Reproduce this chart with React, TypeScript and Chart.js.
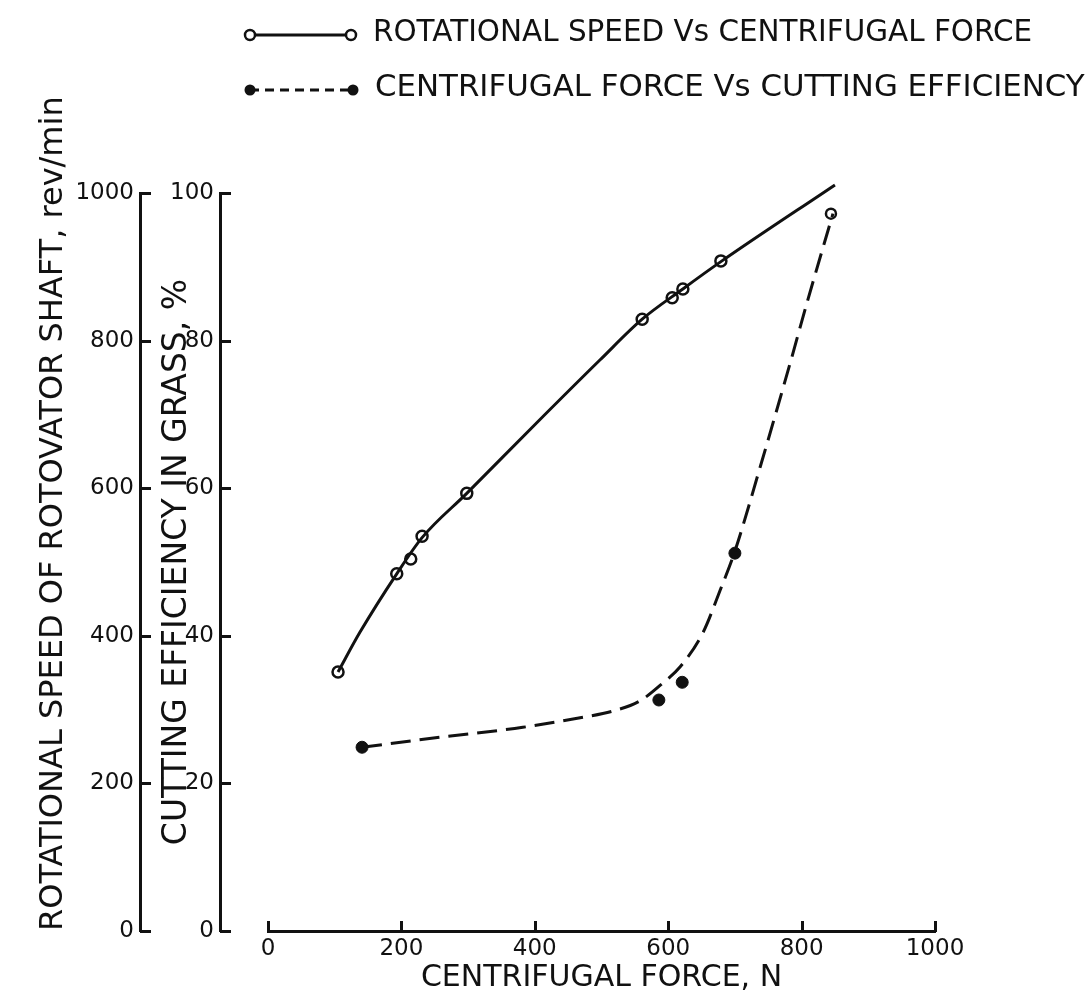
import { useEffect, useRef } from 'react';
import { Chart, registerables } from 'chart.js';

Chart.register(...registerables);

// ---- data ----
// measured points: rotational speed (rev/min) vs centrifugal force (N)
const SPEED_FORCE = [105, 193, 214, 231, 298, 561, 606, 622, 679, 850];
const ROTATIONAL_SPEED = [351, 484, 504, 535, 593, 829, 858, 870, 908, 1011];

// hand-drawn solid curve through them
const SPEED_CURVE_FORCE = [105, 138, 193, 231, 298, 400, 498, 561, 622, 679, 850];
const SPEED_CURVE = [351, 405, 484, 533, 593, 686, 774, 829, 870, 907, 1011];

// measured points: cutting efficiency (%) vs centrifugal force (N)
const EFF_FORCE = [141, 586, 621, 700, 844];
const CUTTING_EFFICIENCY = [24.9, 31.3, 33.7, 51.2, 97.2];

// hand-drawn dashed curve
const FIT_FORCE = [141, 262, 382, 468, 517, 558, 592, 618, 652, 678, 699, 738, 783, 808, 847];
const FIT_EFFICIENCY = [24.9, 26.3, 27.6, 28.9, 29.8, 31.2, 33.6, 35.8, 40.4, 46.2, 51.2, 62.9, 77.0, 85.1, 97.2];

const X_TICK_STEP = 200;
const SPEED_TICK_STEP = 200;
const EFF_TICK_STEP = 20;

const LEGEND_LABELS = [
  'ROTATIONAL SPEED Vs CENTRIFUGAL FORCE',
  'CENTRIFUGAL FORCE Vs CUTTING EFFICIENCY',
];
const X_TITLE = 'CENTRIFUGAL FORCE, N';
const SPEED_TITLE = 'ROTATIONAL SPEED OF ROTOVATOR SHAFT, rev/min';
const EFF_TITLE = 'CUTTING EFFICIENCY IN GRASS, %';

const INK = '#111111';
const FAMILY = "'DejaVu Sans', sans-serif";

const legendPlugin = {
  id: 'sampleLegend',
  afterDraw(chart: any) {
    const ctx = chart.ctx as CanvasRenderingContext2D;
    ctx.save();
    ctx.strokeStyle = INK;
    ctx.fillStyle = INK;
    ctx.lineWidth = 3;
    // row 1: solid line with open circles
    const y1 = 35;
    ctx.setLineDash([]);
    ctx.beginPath();
    ctx.moveTo(250, y1);
    ctx.lineTo(351, y1);
    ctx.stroke();
    for (const cx of [250, 351]) {
      ctx.beginPath();
      ctx.arc(cx, y1, 5, 0, Math.PI * 2);
      ctx.fillStyle = '#ffffff';
      ctx.fill();
      ctx.lineWidth = 2.5;
      ctx.stroke();
    }
    ctx.fillStyle = INK;
    ctx.font = `29.45px ${FAMILY}`;
    ctx.textBaseline = 'middle';
    ctx.textAlign = 'left';
    ctx.fillText(LEGEND_LABELS[0], 373, y1 - 2);

    // row 2: dashed line with filled dots
    const y2 = 90;
    ctx.lineWidth = 3;
    ctx.setLineDash([9, 6]);
    ctx.beginPath();
    ctx.moveTo(250, y2);
    ctx.lineTo(353, y2);
    ctx.stroke();
    ctx.setLineDash([]);
    for (const cx of [250, 353]) {
      ctx.beginPath();
      ctx.arc(cx, y2, 5.5, 0, Math.PI * 2);
      ctx.fill();
    }
    ctx.font = `30.85px ${FAMILY}`;
    ctx.fillText(LEGEND_LABELS[1], 375, y2 - 2);
    ctx.restore();
  },
};

// tick marks pointing into the plot, drawn at the scales' own tick positions
const inwardTicksPlugin = {
  id: 'inwardTicks',
  afterDraw(chart: any) {
    const ctx = chart.ctx as CanvasRenderingContext2D;
    ctx.save();
    ctx.strokeStyle = INK;
    ctx.lineWidth = 3;
    ctx.setLineDash([]);
    for (const id of ['ySpeed', 'yEff']) {
      const s = chart.scales[id];
      for (const t of s.ticks) {
        const py = Math.round(s.getPixelForValue(t.value)) + 0.5;
        ctx.beginPath();
        ctx.moveTo(s.right, py);
        ctx.lineTo(s.right + 11, py);
        ctx.stroke();
      }
    }
    const sx = chart.scales.x;
    for (const t of sx.ticks) {
      const px = Math.round(sx.getPixelForValue(t.value)) + 0.5;
      ctx.beginPath();
      ctx.moveTo(px, sx.top + 1);
      ctx.lineTo(px, sx.top - 10);
      ctx.stroke();
    }
    ctx.restore();
  },
};

const plain = (v: any) => String(v);

export default function App() {
  const canvasRef = useRef<HTMLCanvasElement | null>(null);

  useEffect(() => {
    if (!canvasRef.current) return;
    const tickFont = { family: FAMILY, size: 23 };
    const chart = new Chart(canvasRef.current, {
      type: 'line',
      data: {
        datasets: [
          {
            label: LEGEND_LABELS[0] + ' curve',
            data: SPEED_CURVE_FORCE.map((x, i) => ({ x, y: SPEED_CURVE[i] })),
            yAxisID: 'ySpeed',
            borderColor: INK,
            borderWidth: 3,
            cubicInterpolationMode: 'monotone',
            pointRadius: 0,
            clip: false,
          },
          {
            label: LEGEND_LABELS[0],
            data: SPEED_FORCE.map((x, i) => ({ x, y: ROTATIONAL_SPEED[i] })),
            yAxisID: 'ySpeed',
            showLine: false,
            pointRadius: 5.5,
            pointBorderWidth: 2.5,
            pointBackgroundColor: '#ffffff',
            pointBorderColor: INK,
            clip: false,
          },
          {
            label: LEGEND_LABELS[1] + ' curve',
            data: FIT_FORCE.map((x, i) => ({ x, y: FIT_EFFICIENCY[i] })),
            yAxisID: 'yEff',
            borderColor: INK,
            borderWidth: 3,
            borderDash: [20, 9],
            cubicInterpolationMode: 'monotone',
            pointRadius: 0,
            clip: false,
          },
          {
            label: LEGEND_LABELS[1],
            data: EFF_FORCE.map((x, i) => ({ x, y: CUTTING_EFFICIENCY[i] })),
            yAxisID: 'yEff',
            showLine: false,
            pointRadius: (c: any) => (c.dataIndex === EFF_FORCE.length - 1 ? 5 : 6),
            pointBorderWidth: (c: any) => (c.dataIndex === EFF_FORCE.length - 1 ? 2.5 : 1),
            pointBackgroundColor: (c: any) => (c.dataIndex === EFF_FORCE.length - 1 ? '#ffffff' : INK),
            pointBorderColor: INK,
            clip: false,
          },
        ],
      },
      options: {
        responsive: false,
        animation: false,
        layout: { padding: { top: 193, right: 157, bottom: 0, left: 0 } },
        elements: { line: { capBezierPoints: false } },
        plugins: {
          legend: { display: false },
          tooltip: { enabled: false },
        },
        scales: {
          x: {
            type: 'linear',
            position: 'bottom',
            min: 0,
            max: 1000,
            ticks: { stepSize: X_TICK_STEP, font: tickFont, color: INK, padding: 4, maxRotation: 0, autoSkip: false, callback: plain },
            grid: { drawOnChartArea: false, drawTicks: false },
            border: { display: true, width: 3, color: INK },
            title: { display: true, text: X_TITLE, color: INK, font: { family: FAMILY, size: 30 }, padding: { top: 0, bottom: 3 } },
            afterFit: (s: any) => { s.height = 68; },
          },
          ySpeed: {
            type: 'linear',
            position: 'left',
            weight: 3,
            min: 0,
            max: 1000,
            ticks: { stepSize: SPEED_TICK_STEP, font: tickFont, color: INK, padding: 6, callback: plain },
            grid: { drawOnChartArea: false, drawTicks: false },
            border: { display: true, width: 3, color: INK },
            title: { display: true, text: SPEED_TITLE, align: 'start', color: INK, font: { family: FAMILY, size: 32 }, padding: { top: 34, bottom: -34 } },
            afterFit: (s: any) => { s.width = 140; },
          },
          yEff: {
            type: 'linear',
            position: 'left',
            weight: 2,
            min: 0,
            max: 100,
            ticks: { stepSize: EFF_TICK_STEP, font: tickFont, color: INK, padding: 6, callback: plain },
            grid: { drawOnChartArea: false, drawTicks: false },
            border: { display: true, width: 3, color: INK },
            title: { display: true, text: EFF_TITLE, align: 'center', color: INK, font: { family: FAMILY, size: 33 }, padding: { top: 18, bottom: -18 } },
            afterFit: (s: any) => { s.width = 80; },
          },
          spacer: {
            type: 'linear',
            position: 'left',
            weight: 1,
            display: true,
            ticks: { display: false },
            grid: { display: false },
            border: { display: false },
            afterFit: (s: any) => { s.width = 48; },
          },
        },
      } as any,
      plugins: [legendPlugin, inwardTicksPlugin],
    });
    return () => chart.destroy();
  }, []);

  return (
    <div style={{ position: 'absolute', left: 0, top: 0, width: 1092, height: 999, background: '#ffffff' }}>
      <canvas ref={canvasRef} width={1092} height={999} style={{ width: 1092, height: 999, display: 'block' }} />
    </div>
  );
}
